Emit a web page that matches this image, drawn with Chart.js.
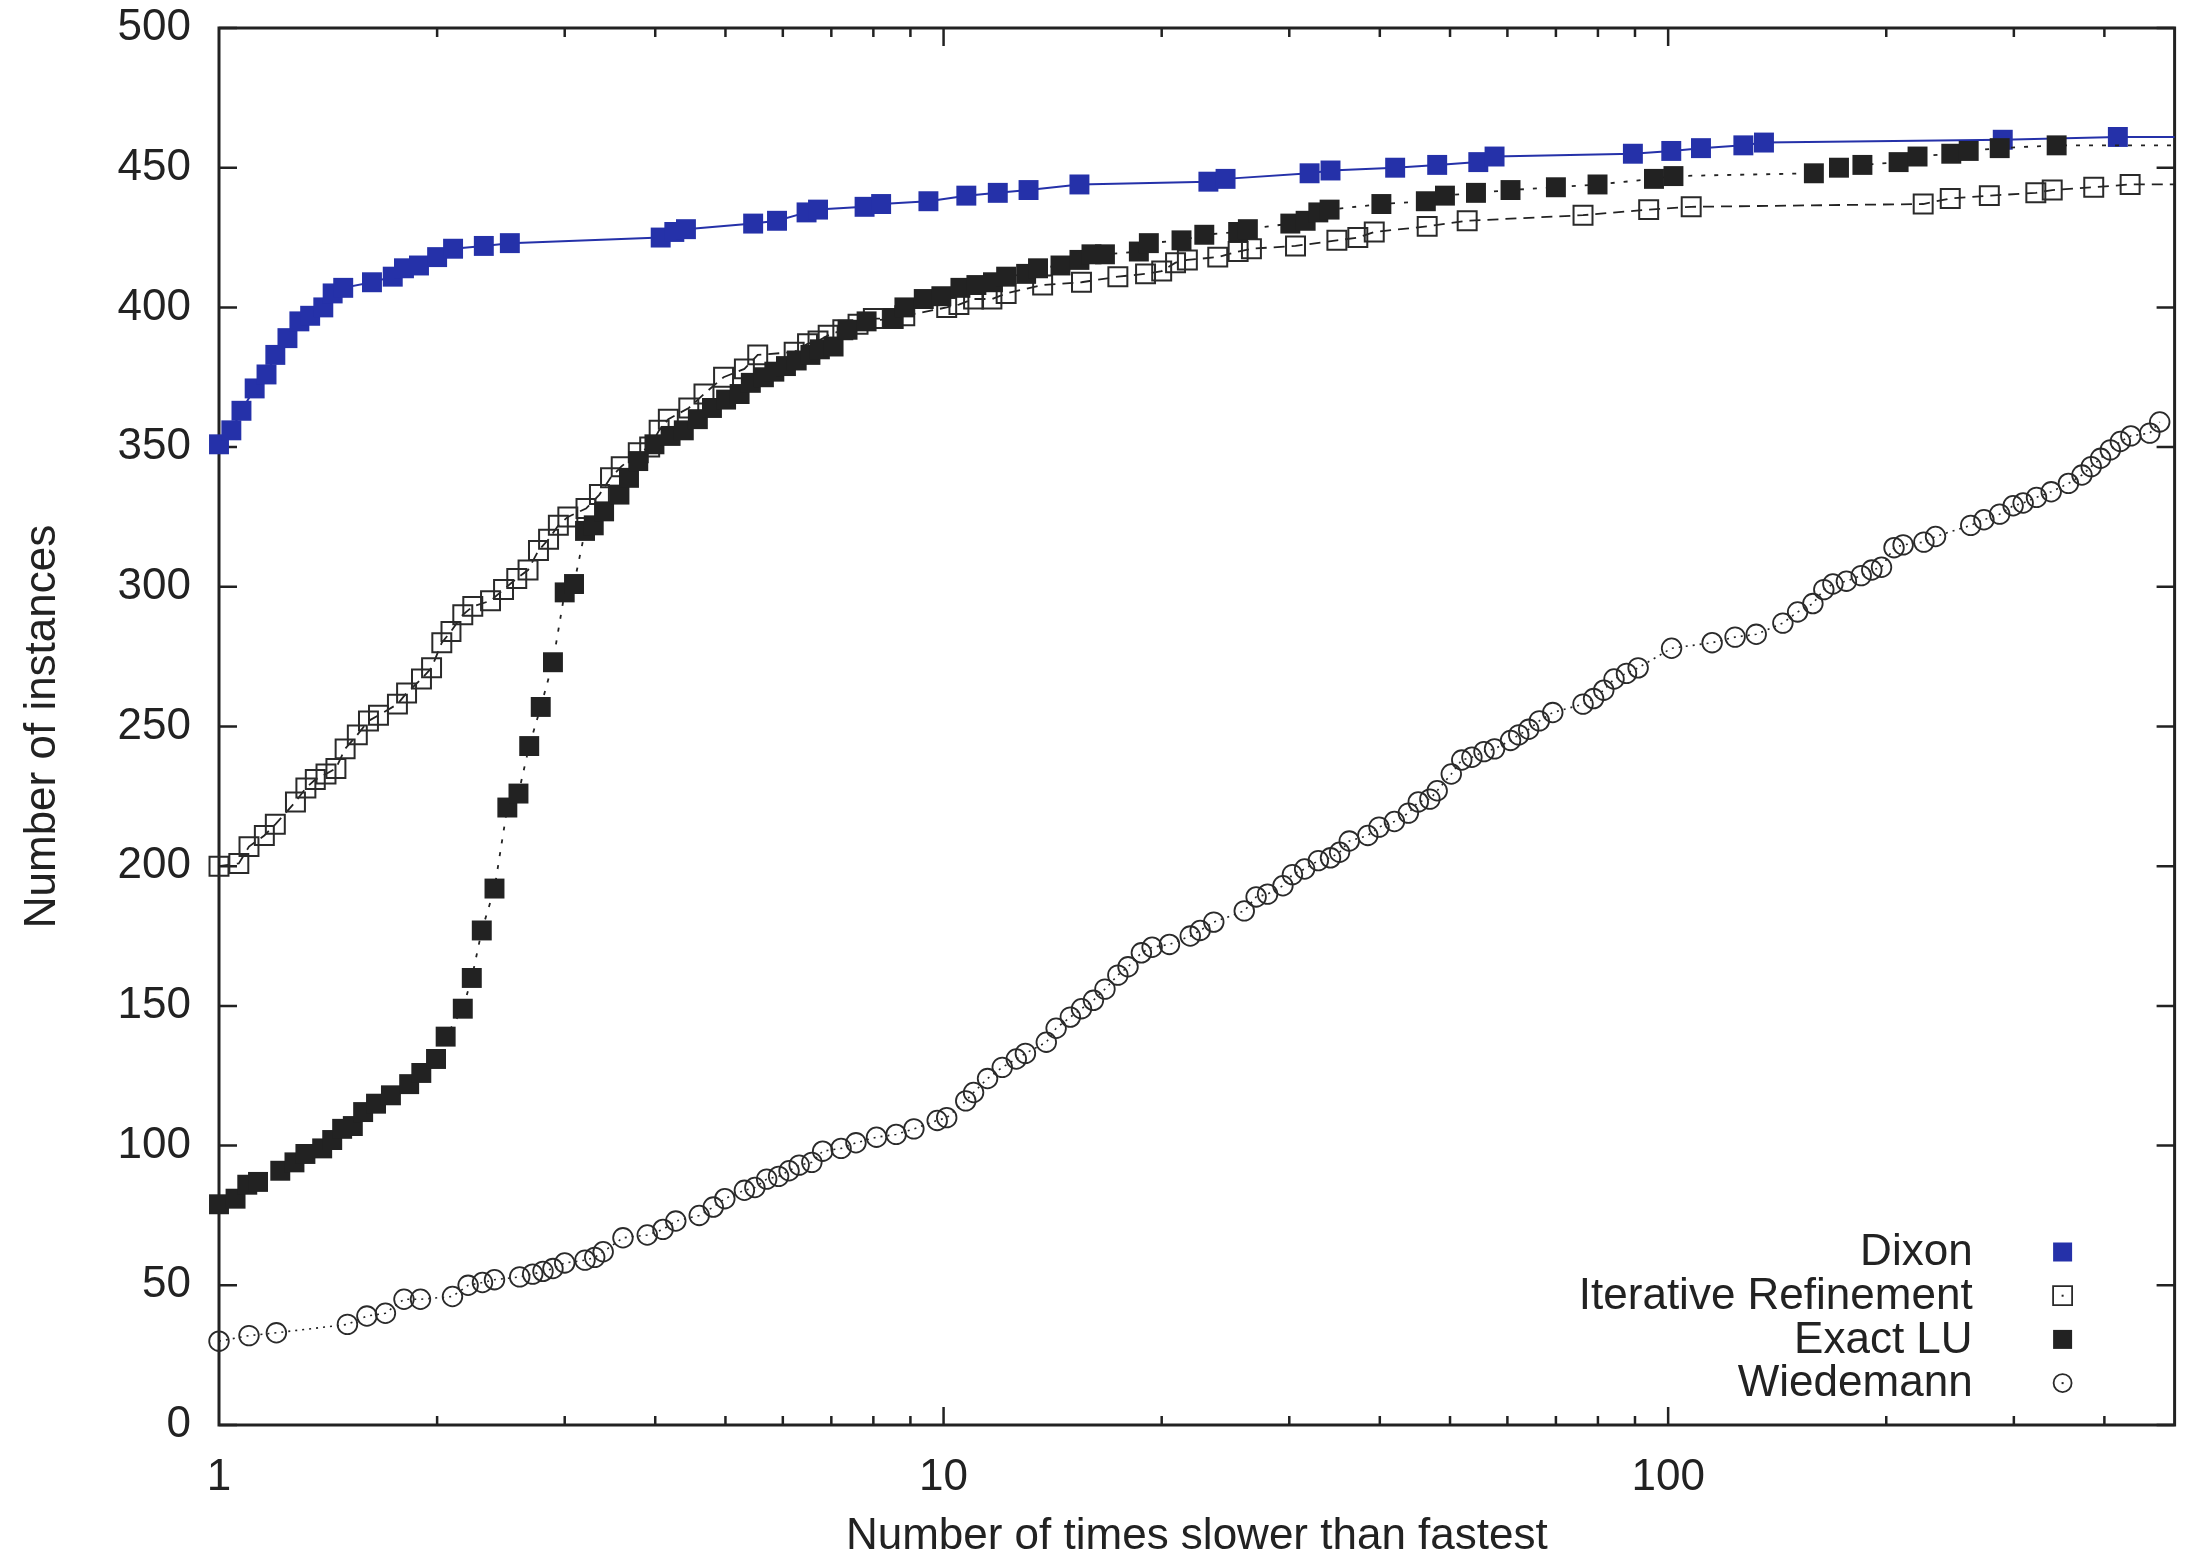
<!DOCTYPE html>
<html>
<head>
<title>Performance profile</title>
<script src="https://cdn.jsdelivr.net/npm/chart.js@4.4.1/dist/chart.umd.min.js"></script>
<style>
  html, body { margin: 0; padding: 0; background: #fff; overflow: hidden; }
  #chart-container { width: 2190px; height: 1560px; }
  #mycanvas { display: block; }
</style>
</head>
<body>
<div id="chart-container"><canvas id="mycanvas" width="2190" height="1560"></canvas></div>
<script>
// values (x = times slower than fastest, y = number of instances)
var seriesNames = ['Dixon', 'Iterative Refinement', 'Exact LU', 'Wiedemann'];

var dixonX = [1.0, 1.04, 1.074, 1.12, 1.163, 1.196, 1.243, 1.291, 1.336, 1.393, 1.435, 1.484, 1.626, 1.737, 1.80, 1.888,
  2.0, 2.104, 2.32, 2.52, 4.07, 4.25, 4.41, 5.46, 5.89, 6.47, 6.71, 7.78, 8.2, 9.53, 10.75, 11.88, 13.1, 15.4,
  23.2, 24.5, 32.0, 34.2, 42.0, 48.0, 54.7, 57.6, 89.4, 101, 111, 127, 135.6, 289.6, 417.5, 500];
var dixonY = [351, 356, 363, 371, 376, 383, 389, 395, 397, 400, 405, 407, 409, 411, 414, 415,
  418, 421, 422, 423, 425, 427, 428, 430, 431, 434, 435, 436, 437, 438, 440, 441, 442, 444,
  445, 446, 448, 449, 450, 451, 452, 454, 455, 456, 457, 458, 459, 460, 461, 461];

var iterX = [1.0, 1.065, 1.10, 1.155, 1.196, 1.275, 1.318, 1.358, 1.405, 1.45, 1.493, 1.552, 1.608, 1.66, 1.763,
  1.815, 1.903, 1.965, 2.03, 2.09, 2.17, 2.24, 2.37, 2.47, 2.576, 2.67, 2.76, 2.85, 2.94, 3.03, 3.21, 3.35, 3.47,
  3.59, 3.79, 3.93, 4.05, 4.17, 4.45, 4.67, 4.97, 5.31, 5.54, 6.22, 6.49, 6.71, 6.93, 7.26, 7.62, 8.0, 8.52, 8.84,
  10.1, 10.5, 11.0, 11.66, 12.2, 13.7, 15.5, 17.4, 19.0, 20.0, 20.9, 21.7, 23.9, 25.5, 26.6, 30.6, 34.9, 37.3,
  39.3, 46.5, 52.8, 76.3, 94, 107.6, 224.9, 245.1, 277.5, 321.7, 338.9, 386.7, 434.1, 500];
var iterY = [200, 201, 207, 211, 215, 223, 228, 231, 233, 235, 242, 247, 252, 254, 258,
  262, 267, 271, 280, 284, 290, 293, 295, 299, 303, 306, 313, 317, 322, 325, 328, 333, 339,
  343, 348, 350, 356, 360, 364, 369, 375, 378, 383, 384, 387, 388, 390, 392, 394, 396, 396, 397,
  400, 401, 403, 403, 405, 408, 409, 411, 412, 413, 416, 417, 418, 420, 421, 422, 424, 425,
  427, 429, 431, 433, 435, 436, 437, 439, 440, 441, 442, 443, 444, 444];

var luX = [1.0, 1.054, 1.094, 1.132, 1.215, 1.271, 1.316, 1.388, 1.433, 1.479, 1.53, 1.581, 1.647, 1.727, 1.83,
  1.902, 1.993, 2.055, 2.17, 2.233, 2.305, 2.40, 2.50, 2.59, 2.68, 2.78, 2.89, 3.0, 3.09, 3.2, 3.29, 3.4, 3.57,
  3.68, 3.79, 3.99, 4.2, 4.38, 4.58, 4.79, 5.01, 5.23, 5.42, 5.65, 5.84, 6.06, 6.27, 6.55, 6.75, 7.05, 7.37, 7.83,
  8.52, 8.83, 9.39, 9.93, 10.55, 11.1, 11.7, 12.2, 13.0, 13.5, 14.5, 15.4, 16.0, 16.7, 18.6, 19.2, 21.3, 22.9,
  25.5, 26.3, 30.1, 31.6, 32.9, 34.1, 40.2, 46.3, 49.2, 54.3, 60.6, 70, 79.9, 95.6, 101.7, 158.9, 172.1, 185.4,
  208, 220.9, 245.9, 259.9, 286.8, 343.7, 500];
var luY = [79, 81, 86, 87, 91, 94, 97, 99, 102, 106, 107, 112, 115, 118, 122,
  126, 131, 139, 149, 160, 177, 192, 221, 226, 243, 257, 273, 298, 301, 320, 322, 327, 333,
  339, 345, 351, 354, 356, 360, 364, 367, 369, 373, 375, 377, 379, 381, 383, 385, 386, 392, 395,
  396, 400, 403, 404, 407, 408, 409, 411, 412, 414, 415, 417, 419, 419, 420, 423, 424, 426,
  427, 428, 430, 431, 434, 435, 437, 438, 440, 441, 442, 443, 444, 446, 447, 448, 450, 451,
  452, 454, 455, 456, 457, 458, 458];

var wiedX = [1.0, 1.10, 1.2, 1.504, 1.60, 1.697, 1.80, 1.897, 2.10, 2.207, 2.31, 2.40, 2.60, 2.71, 2.80, 2.89,
  3.0, 3.2, 3.30, 3.39, 3.61, 3.90, 4.10, 4.27, 4.6, 4.81, 4.99, 5.31, 5.49, 5.7, 5.92, 6.12, 6.32, 6.58, 6.81,
  7.22, 7.57, 8.08, 8.6, 9.1, 9.8, 10.1, 10.73, 11.0, 11.5, 12.05, 12.6, 12.97, 13.86, 14.3, 14.96, 15.5, 16.1,
  16.7, 17.4, 17.97, 18.75, 19.4, 20.5, 21.9, 22.6, 23.6, 26.0, 27.0, 28.0, 29.4, 30.3, 31.5, 32.9, 34.2, 35.2,
  36.3, 38.5, 39.9, 41.9, 43.8, 45.2, 46.9, 48.0, 50.2, 51.9, 53.6, 55.7, 57.6, 60.6, 62.2, 64.2, 66.4, 69.3,
  76.3, 78.9, 81.5, 84.2, 87.6, 90.9, 101.1, 115, 123.7, 132.3, 144, 150.9, 158.4, 164, 168.8, 176.2, 184.7,
  191, 197, 205, 211, 225.4, 233.9, 261.6, 272.8, 286.8, 299.3, 309, 322.4, 337.8, 356.8, 372.5, 383.6, 395.2,
  407.6, 420.8, 435.1, 462.1, 476.9];
var wiedY = [30, 32, 33, 36, 39, 40, 45, 45, 46, 50, 51, 52, 53, 54, 55, 56,
  58, 59, 60, 62, 67, 68, 70, 73, 75, 78, 81, 84, 85, 88, 89, 91, 93, 94, 98,
  99, 101, 103, 104, 106, 109, 110, 116, 119, 124, 128, 131, 133, 137, 142, 146, 149, 152,
  156, 161, 164, 169, 171, 172, 175, 177, 180, 184, 189, 190, 193, 197, 199, 202, 203, 205,
  209, 211, 214, 216, 219, 223, 224, 227, 233, 238, 239, 241, 242, 245, 247, 249, 252, 255,
  258, 260, 263, 267, 269, 271, 278, 280, 282, 283, 287, 291, 294, 299, 301, 302, 304,
  306, 307, 314, 315, 316, 318, 322, 324, 326, 329, 330, 332, 334, 337, 340, 343, 346,
  349, 352, 354, 355, 359];

var xMin = 1, xMax = 500;
var xLabelTicks = [1, 10, 100];
var yMin = 0, yMax = 500, yStep = 50;

var ink = '#222222';
var blue = '#2531a9';

function pts(xs, ys) {
  return xs.map(function (x, i) { return { x: x, y: ys[i] }; });
}
// the last point of a series that runs to the right border only carries the line
function markerRadius(xs, r) {
  return function (c) {
    return (c.dataIndex === xs.length - 1 && xs[xs.length - 1] >= xMax) ? 0 : r;
  };
}

Chart.defaults.font.family = '"Liberation Sans", Arial, Helvetica, sans-serif';
Chart.defaults.color = ink;

var frameAndLegend = {
  id: 'frameAndLegend',
  beforeDatasetsDraw: function (chart) {
    var ctx = chart.ctx, a = chart.chartArea;
    var xs = chart.scales.x, ys = chart.scales.y;
    ctx.save();
    ctx.strokeStyle = ink;
    ctx.lineWidth = 2.5;
    ctx.beginPath();
    ys.ticks.forEach(function (t) {
      var p = ys.getPixelForValue(t.value);
      ctx.moveTo(a.left, p); ctx.lineTo(a.left + 18, p);
      ctx.moveTo(a.right, p); ctx.lineTo(a.right - 18, p);
    });
    xs.ticks.forEach(function (t) {
      if (t.value <= xMin || t.value >= xMax) return;
      var m = t.value / Math.pow(10, Math.floor(Math.log10(t.value) + 1e-9));
      if (Math.abs(m - Math.round(m)) > 1e-6) return;
      var p = xs.getPixelForValue(t.value);
      var len = xLabelTicks.indexOf(t.value) >= 0 ? 18 : 9;
      ctx.moveTo(p, a.bottom); ctx.lineTo(p, a.bottom - len);
      ctx.moveTo(p, a.top); ctx.lineTo(p, a.top + len);
    });
    ctx.stroke();
    ctx.lineWidth = 3;
    ctx.strokeRect(a.left, a.top, a.right - a.left, a.bottom - a.top);
    ctx.restore();
  },
  afterDatasetsDraw: function (chart) {
    var ctx = chart.ctx, a = chart.chartArea;
    ctx.save();
    ctx.font = '44px "Liberation Sans", Arial, sans-serif';
    ctx.textAlign = 'right';
    ctx.textBaseline = 'middle';
    chart.data.datasets.forEach(function (ds, i) {
      var y = a.bottom - 173 + i * 43.7;
      var mx = a.right - 112;
      ctx.fillStyle = ink;
      ctx.fillText(ds.label, a.right - 202, y + 1);
      ctx.beginPath();
      if (ds.pointStyle === 'circle') {
        ctx.arc(mx, y, 9, 0, Math.PI * 2);
      } else {
        ctx.rect(mx - 9.5, y - 9.5, 19, 19);
      }
      if (ds.pointBorderWidth > 0) {
        ctx.lineWidth = 1.8;
        ctx.strokeStyle = ds.pointBorderColor;
        ctx.stroke();
        ctx.fillStyle = ink;
        ctx.fillRect(mx - 1, y - 1, 2, 2);
      } else {
        ctx.fillStyle = ds.pointBackgroundColor;
        ctx.fill();
      }
    });
    ctx.restore();
  }
};

var chartdata = {
  datasets: [
    {
      label: seriesNames[0],
      data: pts(dixonX, dixonY),
      borderColor: blue,
      borderWidth: 2,
      pointStyle: 'rect',
      pointRadius: markerRadius(dixonX, 14.1),
      pointBackgroundColor: blue,
      pointBorderWidth: 0,
      order: 4
    },
    {
      label: seriesNames[1],
      data: pts(iterX, iterY),
      borderColor: ink,
      borderWidth: 1.8,
      borderDash: [11, 7],
      pointStyle: 'rect',
      pointRadius: markerRadius(iterX, 13.4),
      pointBackgroundColor: 'rgba(0,0,0,0)',
      pointBorderColor: '#2a2a2a',
      pointBorderWidth: 2,
      order: 3
    },
    {
      label: seriesNames[2],
      data: pts(luX, luY),
      borderColor: ink,
      borderWidth: 1.8,
      borderDash: [4, 9],
      pointStyle: 'rect',
      pointRadius: markerRadius(luX, 14.1),
      pointBackgroundColor: ink,
      pointBorderWidth: 0,
      order: 2
    },
    {
      label: seriesNames[3],
      data: pts(wiedX, wiedY),
      borderColor: ink,
      borderWidth: 1.6,
      borderDash: [2, 5],
      pointStyle: 'circle',
      pointRadius: markerRadius(wiedX, 9.8),
      pointBackgroundColor: 'rgba(0,0,0,0)',
      pointBorderColor: '#2a2a2a',
      pointBorderWidth: 1.8,
      order: 1
    }
  ]
};

var ctx = document.getElementById('mycanvas');

var profileChart = new Chart(ctx, {
  type: 'line',
  data: chartdata,
  plugins: [frameAndLegend],
  options: {
    responsive: false,
    animation: false,
    events: [],
    datasets: { line: { tension: 0, clip: false } },
    layout: { padding: { top: 28, right: 9, left: 0, bottom: 0 } },
    plugins: { legend: { display: false }, tooltip: { enabled: false } },
    scales: {
      x: {
        type: 'logarithmic',
        min: xMin,
        max: xMax,
        grid: { display: false },
        border: { display: false },
        ticks: {
          autoSkip: false,
          maxRotation: 0,
          minRotation: 0,
          padding: 0,
          color: ink,
          // tall line box keeps the labels off the frame without side padding
          font: { size: 44, lineHeight: 2.06 },
          callback: function (value) {
            return xLabelTicks.indexOf(value) >= 0 ? String(value) : '';
          }
        },
        title: {
          display: true,
          text: 'Number of times slower than fastest',
          color: ink,
          font: { size: 44, lineHeight: 1 },
          padding: { top: 0, bottom: 1 }
        },
        afterFit: function (scale) {
          scale.height = 135;
          scale.paddingLeft = 0;
          scale.paddingRight = 0;
        }
      },
      y: {
        min: yMin,
        max: yMax,
        grid: { display: false },
        border: { display: false },
        ticks: { stepSize: yStep, padding: 20, color: ink, font: { size: 44 } },
        title: {
          display: true,
          text: 'Number of instances',
          color: ink,
          font: { size: 44 },
          padding: { top: 16, bottom: 0 }
        },
        afterFit: function (scale) {
          scale.width = 219;
          scale.paddingTop = 0;
          scale.paddingBottom = 0;
        }
      }
    }
  }
});
</script>
</body>
</html>
